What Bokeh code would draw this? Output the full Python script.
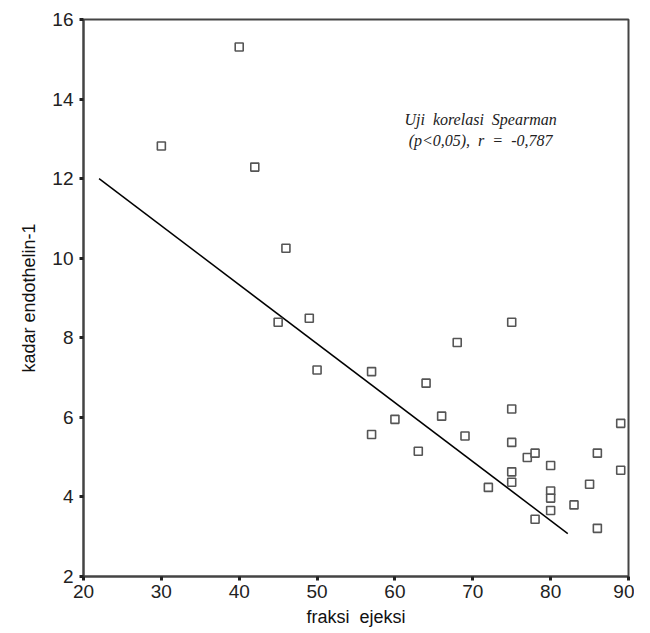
from bokeh.plotting import figure
from bokeh.models import Range1d, FixedTicker, Label
from bokeh.embed import file_html
from bokeh.resources import INLINE

# data
fraksi_ejeksi = [30, 40, 42, 46, 45, 49, 50, 57, 57, 60, 63, 64, 66, 68, 69, 72,
                 75, 75, 75, 75, 75, 77, 78, 78, 80, 80, 80, 80, 83, 85, 86, 86, 89, 89]
kadar_endothelin = [12.82, 15.31, 12.29, 10.25, 8.39, 8.49, 7.19, 7.15, 5.57, 5.95, 5.15, 6.86,
                    6.03, 7.88, 5.53, 4.24, 8.39, 6.21, 5.37, 4.63, 4.37, 4.99, 5.10, 3.44,
                    4.79, 4.15, 3.97, 3.66, 3.80, 4.32, 5.10, 3.21, 5.85, 4.67]
fit_x = [22.0, 82.2]
fit_y = [12.0, 3.08]
x_ticks = [20, 30, 40, 50, 60, 70, 80, 90]
y_ticks = [2, 4, 6, 8, 10, 12, 14, 16]
NB = "\u00a0"
note_lines = ["Uji" + NB * 2 + "korelasi" + NB * 2 + "Spearman",
              "(p<0,05)," + NB * 2 + "r" + NB * 2 + "=" + NB * 2 + "-0,787"]
note_x = [71.0, 71.0]
note_y = [13.49, 12.96]

p = figure(frame_width=545, frame_height=557, output_backend="svg", toolbar_location=None,
           x_range=Range1d(20, 90), y_range=Range1d(2, 16),
           min_border_left=83, min_border_top=19, min_border_right=6, min_border_bottom=49)
p.grid.visible = False
p.background_fill_color = "white"
p.border_fill_color = "white"
p.outline_line_color = "#444444"
p.outline_line_width = 2

p.line(fit_x, fit_y, line_color="black", line_width=1.5)
p.scatter(fraksi_ejeksi, kadar_endothelin, marker="square", size=8,
          fill_color="white", line_color="#555555", line_width=1.6)

for ax in (p.xaxis[0], p.yaxis[0]):
    ax.axis_line_color = "#444444"
    ax.axis_line_width = 2
    ax.major_tick_line_color = "#222222"
    ax.major_tick_line_width = 3
    ax.major_tick_out = 4
    ax.major_tick_in = 0
    ax.minor_tick_line_color = None
    ax.major_label_text_font = "Liberation Sans"
    ax.major_label_text_font_size = "19px"
    ax.major_label_text_color = "#222222"
    ax.axis_label_text_font = "Liberation Sans"
    ax.axis_label_text_font_size = "18px"
    ax.axis_label_text_font_style = "normal"
    ax.axis_label_text_color = "#111111"

p.xaxis.ticker = FixedTicker(ticks=x_ticks)
p.yaxis.ticker = FixedTicker(ticks=y_ticks)
p.xaxis.axis_label = "fraksi" + NB * 2 + "ejeksi"
p.yaxis.axis_label = "kadar endothelin-1"
p.xaxis.major_label_standoff = 4
p.yaxis.major_label_standoff = 6
p.xaxis.axis_label_standoff = 6
p.yaxis.axis_label_standoff = 10

for t, xx, yy in zip(note_lines, note_x, note_y):
    p.add_layout(Label(x=xx, y=yy, text=t, text_align="center", text_baseline="middle",
                       text_font="Liberation Serif", text_font_style="italic",
                       text_font_size="16px", text_color="#222222"))

open("out.html", "w").write(file_html(p, INLINE))
